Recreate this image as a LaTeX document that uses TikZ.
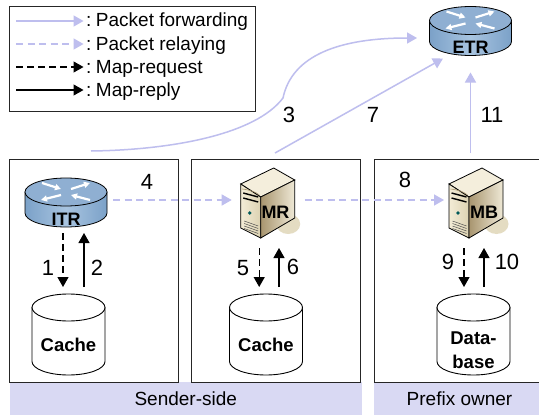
\documentclass[tikz,border=0pt]{standalone}
\usepackage{fontspec}
\setmainfont{Liberation Sans}
\usetikzlibrary{arrows.meta}
\definecolor{lav}{HTML}{BEBEEE}
\definecolor{bandcol}{HTML}{D9D9F3}
\definecolor{routerdark}{HTML}{7BA1C8}
\definecolor{routerlight}{HTML}{A8C4E0}
\definecolor{routertop}{HTML}{8FAFD2}
\definecolor{srvtop}{HTML}{F4EEDC}
\definecolor{srvfrontA}{HTML}{F3ECD6}
\definecolor{srvfrontB}{HTML}{DCD2B2}
\definecolor{srvsideA}{HTML}{A8956F}
\definecolor{srvsideB}{HTML}{EFE9D6}
\definecolor{srvshadow}{HTML}{E4DCC2}
\tikzset{
    panel/.style={draw=black!85, line width=0.9pt},
    band/.style={fill=bandcol, font=\fontsize{19}{21}\selectfont},
    fwdline/.style={->, lav, line width=1.5pt},
    relayline/.style={->, lav, line width=1.5pt, dash pattern=on 7pt off 4.5pt},
    reqline/.style={->, black, line width=1.2pt, dash pattern=on 7pt off 4pt},
    replyline/.style={->, black, line width=1.2pt},
    legtext/.style={anchor=west, inner sep=0pt, text height=14pt, text depth=4pt, font=\fontsize{19}{21}\selectfont},
    num/.style={inner sep=0pt, font=\fontsize{22}{24}\selectfont},
    devlabel/.style={inner sep=0pt, font=\fontsize{18}{20}\selectfont\bfseries},
    storetext/.style={inner sep=0pt, align=center, font=\fontsize{18.5}{24}\selectfont\bfseries},
    storebox/.style={minimum width=73pt, minimum height=81pt, inner sep=0pt, outer xsep=0pt, outer ysep=7pt},
    routerbox/.style={minimum width=82pt, minimum height=54pt, inner sep=0pt, outer xsep=6pt, outer ysep=6pt},
    serverbox/.style={minimum width=59pt, minimum height=76pt, inner sep=0pt, outer xsep=5pt, outer ysep=10pt},
    storecyl/.pic={
        \path[draw=black, line width=0.9pt, fill=white]
            (-36.5,-27) -- (-36.5,27) arc[start angle=180, end angle=0, x radius=36.5, y radius=13.5] -- (36.5,-27) -- cycle;
        \path[draw=black, line width=0.9pt, fill=white] (0,-27) ellipse[x radius=36.5, y radius=13.5];
    },
    router/.pic={
        \path[draw=black, line width=0.8pt, left color=routerdark, right color=routerdark, middle color=routerlight]
            (-41,-8) -- (-41,13) arc[start angle=180, end angle=0, x radius=41, y radius=14] -- (41,-8) -- cycle;
        \path[draw=black, line width=0.8pt, fill=routertop]
            (0,-8) ellipse[x radius=41, y radius=14];
        \foreach \ax/\ay/\bx/\by in {-24/-17/-5/-11, 5/-11/24/-17, -5/-5/-25/0, 24/0/5/-5}
            \draw[-{Triangle[length=6pt,width=6pt]}, white, line width=2.2pt] (\ax,\ay) -- (\bx,\by);
    },
    server/.pic={
        \fill[srvshadow] (18,24) ellipse[x radius=12, y radius=10];
        \path[draw=black, line width=0.8pt, fill=srvtop] (3.5,-32) -- (-29.5,-16) -- (-9.5,-3) -- (24.5,-20) -- cycle;
        \path[draw=black, line width=0.8pt, left color=srvfrontA, right color=srvfrontB]
            (-29.5,-16) -- (-9.5,-3) -- (-9.5,38) -- (-29.5,28) -- cycle;
        \path[draw=black, line width=0.8pt, left color=srvsideA, right color=srvsideB]
            (-9.5,-3) -- (24.5,-20) -- (24.5,18) -- (-9.5,38) -- cycle;
        \draw[black, line width=1.4pt] (-27,-7) -- (-12,-3) (-27,-2) -- (-12,2);
        \draw[srvsideA, line width=0.6pt] (-28,-11) .. controls (-20,-10) and (-14,-8) .. (-11,-5);
        \fill[teal!70!black] (-20.5,13) circle[radius=1.8];
        \foreach \dy in {0,2.5,5,7.5}
            \draw[black!70, line width=0.5pt] (-26,{21+\dy}) -- (-12,{26+\dy});
    },
    >={Triangle[length=10pt,width=11pt]}
}
\begin{document}
\begin{tikzpicture}[x=1pt, y=-1pt]
\clip (0,0) rectangle (539,415);
\fill[white] (0,0) rectangle (539,415);

% regions
\node[band, minimum width=352.5pt, minimum height=33pt, inner sep=0pt] (senderband) at (185.75,398.5) {Sender-side};
\node[band, minimum width=171pt, minimum height=33pt, inner sep=0pt] (ownerband) at (459.5,398.5) {Prefix owner};
\node[panel, minimum width=169pt, minimum height=222.5pt] (itrpanel) at (94,270.75) {};
\node[panel, minimum width=169pt, minimum height=222.5pt] (mrpanel) at (276,270.75) {};
\node[panel, minimum width=171pt, minimum height=222.5pt] (mbpanel) at (459.5,270.75) {};

% legend
\node[panel, minimum width=246pt, minimum height=104.5pt] (legendbox) at (132.5,58.75) {};
\foreach \i/\rowy/\sty/\txt in {1/21/fwdline/Packet forwarding, 2/44/relayline/Packet relaying, 3/67/reqline/Map-request, 4/90/replyline/Map-reply} {
    \coordinate (legstart\i) at (16,\rowy);
    \node[legtext] (leg\i) at (86,\rowy+1) {:\hspace{4.5pt}\txt};
    \draw[\sty, shorten >=2.5pt] (legstart\i) -- (leg\i.west |- legstart\i);
}

% devices
\pic at (66,200) {router};
\node[routerbox] (ITR) at (66,200) {};
\node[devlabel] (ITRname) at (66,219) {ITR};
\pic at (470.5,28.5) {router};
\node[routerbox] (ETR) at (470.5,28.5) {};
\node[devlabel] (ETRname) at (470.5,47) {ETR};
\pic at (270.2,200) {server};
\node[serverbox] (MR) at (270.2,200) {};
\node[devlabel] (MRname) at (275.5,212) {MR};
\pic at (478.5,200) {server};
\node[serverbox] (MB) at (478.5,200) {};
\node[devlabel] (MBname) at (484,212) {MB};

% stores
\foreach \store/\sx/\sy/\txt in {itrcache/68.5/345/Cache, mrcache/266/345/Cache, mbdata/473.5/350/Data-\\base} {
    \pic at (\sx,334.5) {storecyl};
    \node[storebox] (\store) at (\sx,334.5) {};
    \node[storetext] (\store name) at (\sx,\sy) {\txt};
}

% forwarding
\coordinate (itrout) at (91,151);
\coordinate (mrout) at (275,153);
\coordinate (mbout) at (470.5,153);
\draw[fwdline] (itrout) .. controls (170,150) and (255,135) .. (283,98)
    .. controls (292,55) and (340,38) .. ([xshift=-6.5pt,yshift=-9.5pt]ETR.west);
\draw[fwdline] (mrout) -- ([xshift=19.5pt,yshift=3pt]ETR.south west);
\draw[fwdline, shorten >=11pt] (mbout) -- (ETR.south);

% relaying
\draw[relayline, shorten >=4pt] (ITR.east) -- (MR.west);
\draw[relayline] (MR.east) -- (MB.west);

% lookups
\draw[reqline] ([xshift=-3pt]ITR.south) -- ([xshift=-3pt]ITR.south |- itrcache.north);
\draw[replyline] ([xshift=15.5pt]itrcache.north) -- ([xshift=15.5pt]itrcache.north |- ITR.south);
\draw[reqline] ([xshift=-11pt]MR.south) -- ([xshift=-11pt]MR.south |- mrcache.north);
\draw[replyline] ([xshift=13pt]mrcache.north) -- ([xshift=13pt]mrcache.north |- MR.south);
\draw[reqline] ([xshift=-14.5pt]MB.south) -- ([xshift=-14.5pt]MB.south |- mbdata.north);
\draw[replyline] ([xshift=10.5pt]mbdata.north) -- ([xshift=10.5pt]mbdata.north |- MB.south);

% step numbers
\foreach \n/\px/\py in {1/48/268, 2/97/268, 3/289/115, 4/147/182, 5/243/268, 6/293/267, 7/373/115, 8/405/180, 9/448/262, 10/507/262, 11/492/115}
    \node[num] (step\n) at (\px,\py) {\n};
\end{tikzpicture}
\end{document}
